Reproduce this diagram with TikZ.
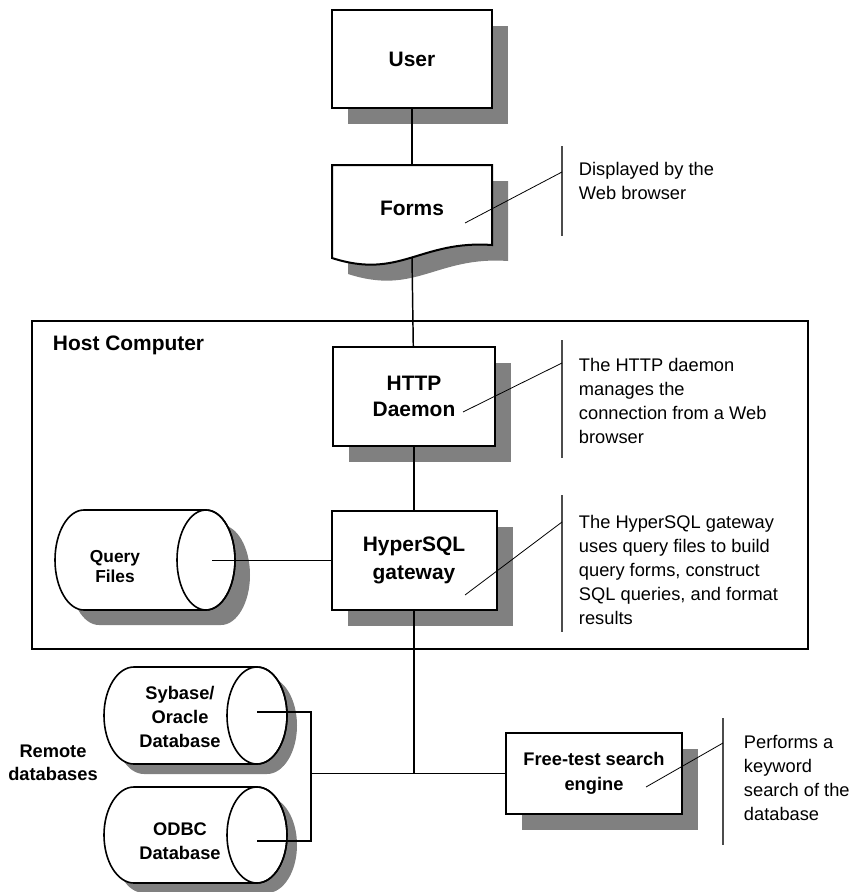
\documentclass[tikz,border=0pt]{standalone}
\usepackage{fontspec}
\setmainfont{Liberation Sans}
\usetikzlibrary{shadows}

% horizontal drum: #1 shape centre, #2 half length, #3 y radius, #4 x radius of the end, #5 shadow offset (all px)
\newcommand\drum[5]{%
    \fill[black!50] ([shift={(#5,#5)}]#1) ++(#2-#4,-#3) -- ++(-2*#2+2*#4,0)
        arc[start angle=90,end angle=270,x radius=0.75pt*#4,y radius=0.75pt*#3]
        -- ++(2*#2-2*#4,0)
        arc[start angle=-90,end angle=90,x radius=0.75pt*#4,y radius=0.75pt*#3] -- cycle;
    \draw[line width=1.2pt,fill=white] (#1) ++(#2-#4,-#3) -- ++(-2*#2+2*#4,0)
        arc[start angle=90,end angle=270,x radius=0.75pt*#4,y radius=0.75pt*#3]
        -- ++(2*#2-2*#4,0)
        arc[start angle=-90,end angle=90,x radius=0.75pt*#4,y radius=0.75pt*#3] -- cycle;
    \draw[line width=1.2pt] (#1) ++(#2-#4,0) ellipse[x radius=0.75pt*#4,y radius=0.75pt*#3];
}

\begin{document}
\begin{tikzpicture}[x=0.75pt,y=-0.75pt,thick,
    big font/.style={font=\bfseries\fontsize{15.7}{19.5}\selectfont},
    small font/.style={font=\bfseries\fontsize{13.7}{18}\selectfont},
    box/.style={draw,line width=1.5pt,fill=white,big font,align=center,
        drop shadow={shadow xshift=12pt,shadow yshift=-12pt,fill=black!50,opacity=1}},
    note/.style={font=\fontsize{13.7}{18}\selectfont,align=left,anchor=west},
    link/.style={line width=1.1pt},
    lead/.style={line width=0.6pt},
    bracket/.style={line width=0.9pt,draw=black!70}]

    \useasboundingbox (0,0) rectangle (852,892);

    % host computer frame
    \node (host) [draw,line width=1.5pt,minimum width=582pt,minimum height=246pt] at (420,485){};
    \node (hostlabel) [big font,anchor=west] at (48,345){Host Computer};

    \node (user) [box,minimum width=120pt,minimum height=73.5pt] at (412,59){User};

    % forms: page with a wavy bottom
    \draw[line width=1.5pt,fill=white,drop shadow={shadow xshift=12pt,shadow yshift=-12pt,fill=black!50,opacity=1}]
        (332,165) -- (492,165) -- (492,245) .. controls (420,240) and (400,280) .. (332,258) -- cycle;
    \node (forms) [big font] at (412,208){Forms};
    \coordinate (formstop) at (412,165);
    \coordinate (formsbot) at (412,257);

    \node (http) [box,minimum width=121.5pt,minimum height=74.25pt] at (414,396.5){HTTP\\Daemon};
    \node (hyper) [box,minimum width=123.75pt,minimum height=74.25pt] at (414,560.5){HyperSQL\\[1pt]gateway};

    % data stores
    \drum{145,560}{90}{50}{29}{15}
    \node (qfiles) [font=\bfseries\fontsize{13}{15}\selectfont,align=center] at (115,567){Query\\Files};
    \drum{195.5,715.5}{91.5}{48.5}{30}{10}
    \node (sybase) [small font,align=center] at (180,717){Sybase/\\Oracle\\Database};
    \drum{195.5,835}{91.5}{48}{30}{10}
    \node (odbc) [small font,align=center] at (180,841){ODBC\\Database};
    \node (remote) [small font,align=center] at (53,763){Remote\\[-1pt]databases};

    \node (free) [box,small font,minimum width=132pt,minimum height=60.75pt] at (594,773.5){Free-test search\\[1pt]engine};

    \coordinate (qfend) at (212,560.5);
    \coordinate (sybend) at (257,712);
    \coordinate (odbcend) at (257,841);
    \coordinate (hub) at (hyper |- free);
    \coordinate (bus) at (311,773.5);

    \path[link]
        (user) edge (formstop)
        (formsbot) edge (http)
        (http) edge (hyper)
        (qfend) edge (hyper)
        (hyper) edge (hub)
        (hub) edge (free)
        (hub) edge (bus)
    ;
    \draw[link] (sybend) -| (bus) |- (odbcend);

    % notes
    \node (formsnote) [note] at (574,181){Displayed by the\\Web browser};
    \node (httpnote) [note] at (574,401){The HTTP daemon\\manages the\\connection from a Web\\browser};
    \node (hypernote) [note] at (574,570){The HyperSQL gateway\\uses query files to build\\query forms, construct\\SQL queries, and format\\results};
    \node (freenote) [note] at (739,778){Performs a\\keyword\\search of the\\database};

    \coordinate (f1) at (562,146); \coordinate (f2) at (562,236);
    \coordinate (fa) at (465,223); \coordinate (fb) at (562,172);
    \coordinate (h1) at (562,340); \coordinate (h2) at (562,458);
    \coordinate (ha) at (463,412); \coordinate (hb) at (562,363);
    \coordinate (g1) at (562,495); \coordinate (g2) at (562,632);
    \coordinate (ga) at (465,595); \coordinate (gb) at (562,522);
    \coordinate (e1) at (723,718); \coordinate (e2) at (723,845);
    \coordinate (ea) at (646,787); \coordinate (eb) at (723,743);

    \path[bracket]
        (f1) edge (f2)
        (h1) edge (h2)
        (g1) edge (g2)
        (e1) edge (e2)
    ;
    \path[lead]
        (fa) edge (fb)
        (ha) edge (hb)
        (ga) edge (gb)
        (ea) edge (eb)
    ;
\end{tikzpicture}
\end{document}
